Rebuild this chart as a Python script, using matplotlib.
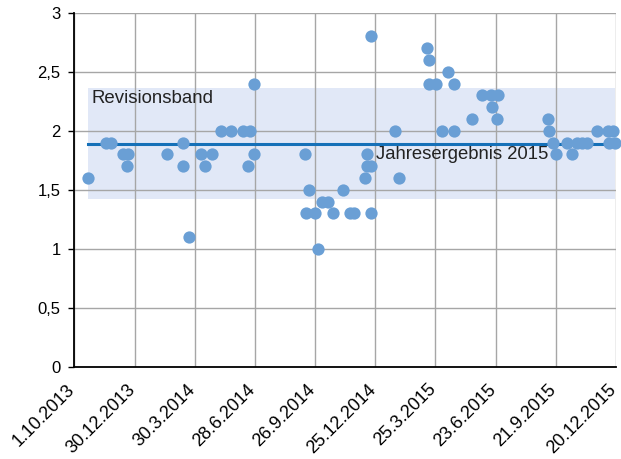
import matplotlib
matplotlib.use("Agg")
import matplotlib.pyplot as plt
import matplotlib.transforms as mtransforms
import pandas as pd

plt.rcParams['font.family'] = ['Liberation Sans', 'DejaVu Sans']

# Einzelergebnisse (Datum, Wert)
datum = ['2013-10-22', '2013-11-18', '2013-11-24', '2013-12-13', '2013-12-20', '2013-12-18',
         '2014-02-17', '2014-03-12', '2014-03-12', '2014-03-21', '2014-04-09', '2014-04-15',
         '2014-04-25', '2014-05-08', '2014-05-23', '2014-06-10', '2014-06-20', '2014-06-18',
         '2014-06-27', '2014-06-27', '2014-09-11', '2014-09-17', '2014-09-12', '2014-09-26',
         '2014-09-30', '2014-10-07', '2014-10-15', '2014-10-23', '2014-11-07', '2014-11-17',
         '2014-11-23', '2014-12-12', '2014-12-12', '2014-12-18', '2014-12-09', '2014-12-18',
         '2014-12-18', '2015-01-24', '2015-01-29', '2015-03-12', '2015-03-15', '2015-03-15',
         '2015-03-26', '2015-04-04', '2015-04-13', '2015-04-22', '2015-04-22', '2015-05-19',
         '2015-06-03', '2015-06-16', '2015-06-26', '2015-06-17', '2015-06-25', '2015-09-09',
         '2015-09-11', '2015-09-17', '2015-09-21', '2015-10-07', '2015-10-15', '2015-10-23',
         '2015-10-30', '2015-11-07', '2015-11-21', '2015-12-08', '2015-12-15', '2015-12-09',
         '2015-12-18']
werte = [1.6, 1.9, 1.9, 1.8, 1.8, 1.7,
         1.8, 1.9, 1.7, 1.1, 1.8, 1.7,
         1.8, 2.0, 2.0, 2.0, 2.0, 1.7,
         2.4, 1.8, 1.8, 1.5, 1.3, 1.3,
         1.0, 1.4, 1.4, 1.3, 1.5, 1.3,
         1.3, 1.8, 1.7, 1.7, 1.6, 1.3,
         2.8, 2.0, 1.6, 2.7, 2.6, 2.4,
         2.4, 2.0, 2.5, 2.4, 2.0, 2.1,
         2.3, 2.3, 2.3, 2.2, 2.1, 2.1,
         2.0, 1.9, 1.8, 1.9, 1.8, 1.9,
         1.9, 1.9, 2.0, 2.0, 2.0, 1.9,
         1.9]

jahresergebnis = 1.89
band_unten = 0.75 * jahresergebnis
band_oben = 1.25 * jahresergebnis

tick_daten = ['2013-10-01', '2013-12-30', '2014-03-30', '2014-06-28', '2014-09-26',
              '2014-12-25', '2015-03-25', '2015-06-23', '2015-09-21', '2015-12-20']
tick_labels = ['1.10.2013', '30.12.2013', '30.3.2014', '28.6.2014', '26.9.2014',
               '25.12.2014', '25.3.2015', '23.6.2015', '21.9.2015', '20.12.2015']
y_ticks = [0, 0.5, 1, 1.5, 2, 2.5, 3]
y_labels = ['0', '0,5', '1', '1,5', '2', '2,5', '3']

x = pd.to_datetime(datum)
ticks = pd.to_datetime(tick_daten)
start = x.min()
ende = x.max()

fig = plt.figure(figsize=(6.21, 4.59), dpi=100)
ax = fig.add_axes([0.1198, 0.2011, 0.8722, 0.7712])

ax.fill_between([start, ende], band_unten, band_oben, color='#e1e8f7', zorder=0.5, lw=0)
ax.plot([start, ende], [jahresergebnis, jahresergebnis], color='#1570b8', lw=2.2, zorder=2)
ax.scatter(x, werte, s=78, color='#6a9fd5', zorder=3, clip_on=False, linewidths=0)

ax.text(pd.Timestamp('2013-10-27'), 2.275, 'Revisionsband', fontsize=13.4,
        va='center', ha='left', color='#222222')
ax.text(pd.Timestamp('2014-12-26'), 1.8, 'Jahresergebnis 2015', fontsize=13.3,
        va='center', ha='left', color='#222222')

ax.set_xlim(ticks[0], ticks[-1])
ax.set_ylim(0, 3)
ax.set_xticks(ticks)
ax.set_xticklabels([])
ax.set_yticks(y_ticks)
ax.set_yticklabels(y_labels, fontsize=12)

# Datumsbeschriftung schräg unter der Achse
versatz = mtransforms.ScaledTranslation(-1.5 / 72, -14.5 / 72, fig.dpi_scale_trans)
for t, lbl in zip(ticks, tick_labels):
    ax.text(t, 0, lbl, transform=ax.get_xaxis_transform() + versatz,
            rotation=45, ha='right', va='center', rotation_mode='anchor',
            fontsize=13, clip_on=False)

ax.grid(True, color='#a6a6a6', lw=1)
ax.set_axisbelow(True)
ax.tick_params(axis='x', length=0)
ax.tick_params(axis='y', length=4, width=1, pad=6)
for s in ['top', 'right']:
    ax.spines[s].set_visible(False)
for s in ['left', 'bottom']:
    ax.spines[s].set_color('black')
    ax.spines[s].set_linewidth(1.3)

fig.savefig('out.png', dpi=100)
